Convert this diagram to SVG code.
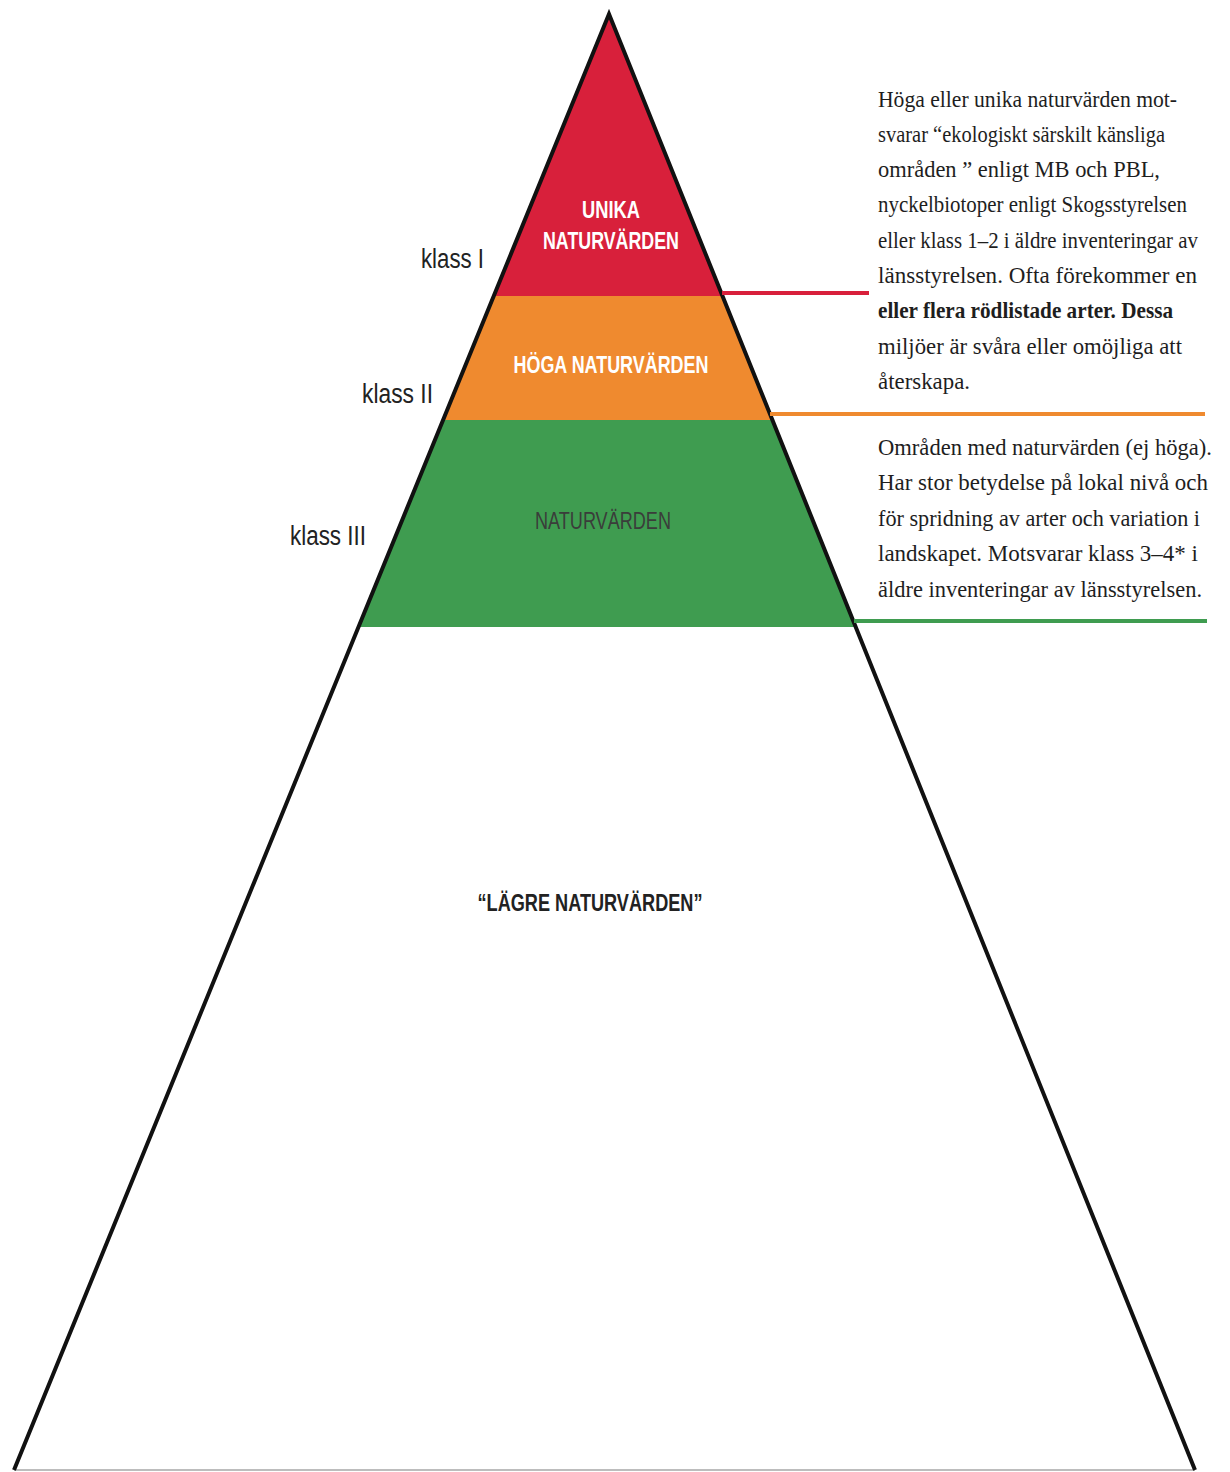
<svg xmlns="http://www.w3.org/2000/svg" width="1230" height="1472" viewBox="0 0 1230 1472">
<style>
.band-label{font-family:"Liberation Sans",Arial,sans-serif;font-weight:bold;font-size:23px;text-anchor:middle}
.klass{font-family:"Liberation Sans",Arial,sans-serif;font-size:27px;fill:#222}
.desc{font-family:"Liberation Serif","Times New Roman",serif;font-size:23px;fill:#1e1e1e}
.outline{fill:none;stroke:#111;stroke-width:4;stroke-linejoin:miter}
</style>
<rect width="1230" height="1472" fill="#ffffff"/>
<g id="band-unika">
<polygon points="609,14 722.5,296 493.7,296" fill="#d8203b"/>
<text class="band-label" x="611" y="218" fill="#ffffff" textLength="58" lengthAdjust="spacingAndGlyphs">UNIKA</text>
<text class="band-label" x="611" y="249" fill="#ffffff" textLength="136" lengthAdjust="spacingAndGlyphs">NATURVÄRDEN</text>
</g>
<g id="band-hoga">
<polygon points="493.7,296 722.5,296 772.4,420 443.1,420" fill="#ef8a2f"/>
<text class="band-label" x="611" y="373" fill="#ffffff" textLength="195" lengthAdjust="spacingAndGlyphs">HÖGA NATURVÄRDEN</text>
</g>
<g id="band-naturvarden">
<polygon points="443.1,420 772.4,420 856,627 358.5,627" fill="#3f9c50"/>
<text x="603" y="529" textLength="136" lengthAdjust="spacingAndGlyphs" style="font-family:'Liberation Sans',Arial,sans-serif;font-size:23px;text-anchor:middle;fill:#3a3d3a">NATURVÄRDEN</text>
</g>
<g id="band-lagre">
<text class="band-label" x="590" y="911" fill="#222222" textLength="225" lengthAdjust="spacingAndGlyphs">“LÄGRE NATURVÄRDEN”</text>
</g>
<g id="pyramid-outline">
<line x1="14" y1="1470" x2="1195" y2="1470" stroke="#bdbdbd" stroke-width="2"/>
<polyline class="outline" points="14,1470 609,14 1195,1470"/>
</g>
<g id="klass-labels">
<text class="klass" x="421" y="268" textLength="63" lengthAdjust="spacingAndGlyphs">klass I</text>
<text class="klass" x="362" y="403" textLength="71" lengthAdjust="spacingAndGlyphs">klass II</text>
<text class="klass" x="290" y="545" textLength="76" lengthAdjust="spacingAndGlyphs">klass III</text>
</g>
<g id="connectors">
<line x1="722" y1="293" x2="869" y2="293" stroke="#d8203b" stroke-width="4"/>
<line x1="770" y1="414" x2="1205" y2="414" stroke="#ef8a2f" stroke-width="4"/>
<line x1="854" y1="621" x2="1207" y2="621" stroke="#3f9c50" stroke-width="4"/>
</g>
<g id="desc-hoga-unika">
<text class="desc" x="878" y="107" textLength="299" lengthAdjust="spacingAndGlyphs">Höga eller unika naturvärden mot-</text>
<text class="desc" x="878" y="142" textLength="287" lengthAdjust="spacingAndGlyphs">svarar “ekologiskt särskilt känsliga</text>
<text class="desc" x="878" y="177" textLength="282" lengthAdjust="spacingAndGlyphs">områden ” enligt MB och PBL,</text>
<text class="desc" x="878" y="212" textLength="309" lengthAdjust="spacingAndGlyphs">nyckelbiotoper enligt Skogsstyrelsen</text>
<text class="desc" x="878" y="248" textLength="320" lengthAdjust="spacingAndGlyphs">eller klass 1–2 i äldre inventeringar av</text>
<text class="desc" x="878" y="283" textLength="319" lengthAdjust="spacingAndGlyphs">länsstyrelsen. Ofta förekommer en</text>
<text class="desc" x="878" y="318" textLength="295" lengthAdjust="spacingAndGlyphs" font-weight="bold">eller flera rödlistade arter. Dessa</text>
<text class="desc" x="878" y="354" textLength="304" lengthAdjust="spacingAndGlyphs">miljöer är svåra eller omöjliga att</text>
<text class="desc" x="878" y="389" textLength="92" lengthAdjust="spacingAndGlyphs">återskapa.</text>
</g>
<g id="desc-naturvarden">
<text class="desc" x="878" y="455" textLength="334" lengthAdjust="spacingAndGlyphs">Områden med naturvärden (ej höga).</text>
<text class="desc" x="878" y="490" textLength="330" lengthAdjust="spacingAndGlyphs">Har stor betydelse på lokal nivå och</text>
<text class="desc" x="878" y="526" textLength="322" lengthAdjust="spacingAndGlyphs">för spridning av arter och variation i</text>
<text class="desc" x="878" y="561" textLength="320" lengthAdjust="spacingAndGlyphs">landskapet. Motsvarar klass 3–4* i</text>
<text class="desc" x="878" y="597" textLength="324" lengthAdjust="spacingAndGlyphs">äldre inventeringar av länsstyrelsen.</text>
</g>
</svg>
